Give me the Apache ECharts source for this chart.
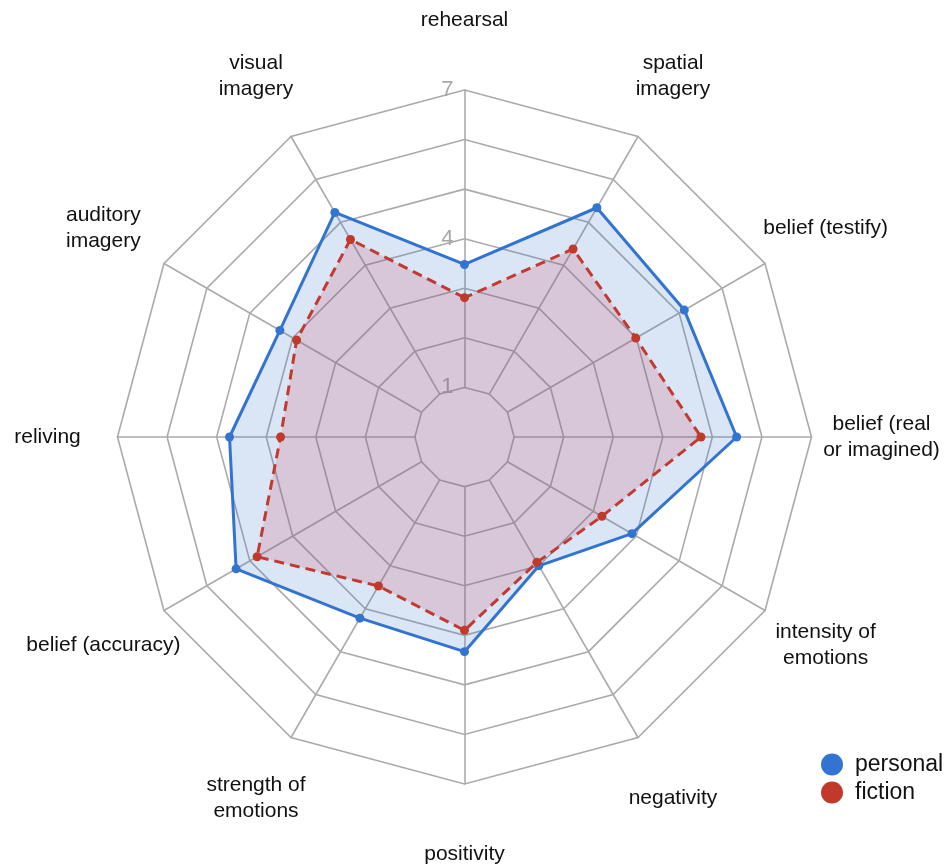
<!DOCTYPE html>
<html>
<head>
<meta charset="utf-8">
<script src="https://cdn.jsdelivr.net/npm/echarts@6/dist/echarts.min.js"></script>
<style>
  html, body { margin: 0; padding: 0; background: #fff; }
  #chart { width: 946px; height: 865px; }
</style>
</head>
<body>
<div id="chart"></div>
<script>
// Indicators in ECharts order (counter-clockwise from the top)
const categories = [
  'rehearsal',
  'visual\nimagery',
  'auditory\nimagery',
  'reliving',
  'belief (accuracy)',
  'strength of\nemotions',
  'positivity',
  'negativity',
  'intensity of\nemotions',
  'belief (real\nor imagined)',
  'belief (testify)',
  'spatial\nimagery'
];
const personal = [3.48, 5.23, 4.30, 4.74, 5.32, 4.22, 4.33, 3.00, 3.90, 5.49, 5.12, 5.34];
const fiction  = [2.81, 4.60, 3.91, 3.71, 4.83, 3.47, 3.90, 2.92, 3.20, 4.77, 3.99, 4.38];
const seriesNames = ['personal', 'fiction'];
const scaleMin = 1;
const scaleMax = 7;
const tickStep = 3;

const FONT = '"Liberation Sans", Arial, sans-serif';
const center = [464.5, 437];
const radius = [49.6, 347];

const chart = echarts.init(document.getElementById('chart'), null, { renderer: 'canvas' });

chart.setOption({
  backgroundColor: '#ffffff',
  animation: false,
  legend: {
    orient: 'vertical',
    left: 821,
    top: 753,
    padding: 0,
    itemWidth: 22,
    itemHeight: 22,
    itemGap: 5,
    icon: 'circle',
    data: seriesNames,
    textStyle: { fontSize: 23, color: '#111', fontFamily: FONT, padding: [0, 0, 0, 7] }
  },
  radar: {
    center: center,
    radius: radius,
    startAngle: 90,
    shape: 'polygon',
    splitNumber: 6,
    nameGap: 70,
    indicator: categories.map(n => ({ name: n, min: scaleMin, max: scaleMax })),
    axisName: {
      color: '#111',
      fontSize: 21,
      fontFamily: FONT,
      lineHeight: 26,
      align: 'center',
      verticalAlign: 'middle'
    },
    axisLine: { show: true, lineStyle: { color: '#ababab', width: 1.6 } },
    splitLine: { show: true, lineStyle: { color: '#ababab', width: 1.6 } },
    splitArea: { show: false },
    axisTick: { show: false },
    axisLabel: { show: false }
  },
  polar: { center: center, radius: radius },
  angleAxis: { type: 'value', startAngle: 90, show: false },
  radiusAxis: {
    type: 'value',
    min: scaleMin,
    max: scaleMax,
    interval: tickStep,
    axisLine: { show: false },
    axisTick: { show: false },
    splitLine: { show: false },
    splitArea: { show: false },
    axisLabel: { show: true, color: '#a8a8a8', fontSize: 22, fontFamily: FONT, margin: 11 }
  },
  series: [
    {
      type: 'radar',
      name: seriesNames[0],
      symbol: 'circle',
      symbolSize: 9,
      z: 2,
      itemStyle: { color: '#3274d0' },
      lineStyle: { color: '#3274d0', width: 3 },
      areaStyle: { color: 'rgba(51,119,204,0.26)' },
      data: [{ value: personal, name: seriesNames[0] }]
    },
    {
      type: 'radar',
      name: seriesNames[1],
      symbol: 'circle',
      symbolSize: 9,
      z: 3,
      itemStyle: { color: '#c0392b' },
      lineStyle: { color: '#c0392b', width: 3, type: [10, 6] },
      areaStyle: { color: 'rgba(203,70,95,0.28)' },
      data: [{ value: fiction, name: seriesNames[1] }]
    }
  ]
});
</script>
</body>
</html>
